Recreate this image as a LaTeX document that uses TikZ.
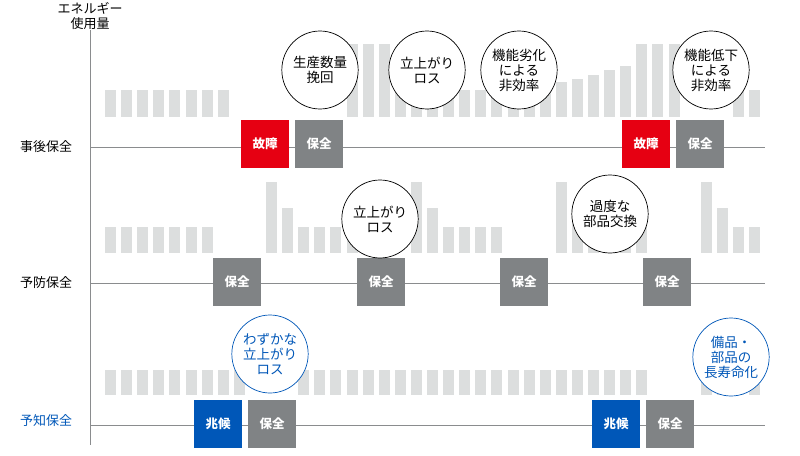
\documentclass[tikz,border=0pt]{standalone}
\usepackage{fontspec}
\setmainfont{Noto Sans CJK JP}
\begin{document}
\begin{tikzpicture}[x=1pt,y=-1pt,
  barc/.style={fill=barg,draw=none},
  box/.style={minimum width=48pt,minimum height=48pt,inner sep=0pt,text=white,font=\fontsize{12.5}{14}\selectfont\bfseries},
  bubble/.style={ellipse,draw=black,fill=white,line width=0.7pt,minimum width=72pt,minimum height=78pt,inner sep=0pt,align=center,font=\fontsize{13.5}{15}\selectfont},
  bbubble/.style={bubble,draw=kblue,text=kblue},
  lab/.style={font=\fontsize{13}{14.5}\selectfont}]
\usetikzlibrary{shapes.geometric}
\definecolor{barg}{HTML}{DCDEDE}
\definecolor{kred}{HTML}{E60012}
\definecolor{kblue}{HTML}{0057B8}
\definecolor{kgray}{HTML}{808385}
\definecolor{lgray}{HTML}{8A8C8E}
\useasboundingbox (0,0) rectangle (800,455);
\newcommand{\ebar}[3]{\fill[barg] ({105+16.1*#1},#2) rectangle ({116+16.1*#1},#3);}
% row 1 bars
\foreach \i in {0,...,7,18,19,...,27,39,40} {\ebar{\i}{90}{117}}
\foreach \i in {15,16,17,33,34,35} {\ebar{\i}{44}{117}}
\foreach \i/\t in {28/82,29/79,30/75,31/70,32/66} {\ebar{\i}{\t}{117}}
% row 2 bars
\foreach \i in {0,...,6,12,13,14,15,21,22,23,24,30,31,32,33,39,40} {\ebar{\i}{227}{253}}
\foreach \i in {10,19,28,37} {\ebar{\i}{182}{253}}
\foreach \i in {11,20,29,38} {\ebar{\i}{208}{253}}
% row 3 bars
\foreach \i in {0,...,8,12,13,...,33,37,38,39,40} {\ebar{\i}{370}{395}}
% axis
\coordinate (atop) at (90,30);
\coordinate (abot) at (90,445);
\draw[lgray,line width=0.8pt] (atop) -- (abot);
\node[lab,align=center,anchor=north] (ylab) at (90,-1) {エネルギー\\使用量};
\foreach \n/\y in {l1/147,l2/283,l3/425} {
  \coordinate (\n a) at (90,\y); \coordinate (\n b) at (765,\y);
  \draw[lgray,line width=0.8pt] (\n a) -- (\n b);}
\node[lab] (r1) at (46,147) {事後保全};
\node[lab] (r2) at (46,283) {予防保全};
\node[lab,text=kblue] (r3) at (46,421) {予知保全};
% row 1 boxes
\node[box,fill=kred] (f1) at (265,144) {故障};
\node[box,fill=kgray] (m1) at (319,144) {保全};
\node[box,fill=kred] (f2) at (646,144) {故障};
\node[box,fill=kgray] (m2) at (700,144) {保全};
% row 2 boxes
\node[box,fill=kgray] (p1) at (237,282) {保全};
\node[box,fill=kgray] (p2) at (381,282) {保全};
\node[box,fill=kgray] (p3) at (524,282) {保全};
\node[box,fill=kgray] (p4) at (667,282) {保全};
% row 3 boxes
\node[box,fill=kblue] (s1) at (218,424) {兆候};
\node[box,fill=kgray] (q1) at (272,424) {保全};
\node[box,fill=kblue] (s2) at (616,424) {兆候};
\node[box,fill=kgray] (q2) at (670,424) {保全};
% bubbles
\node[bubble] (c1) at (320,70) {生産数量\\挽回};
\node[bubble] (c2) at (427,70) {立上がり\\ロス};
\node[bubble] (c3) at (519,70) {機能劣化\\による\\非効率};
\node[bubble] (c4) at (711,70) {機能低下\\による\\非効率};
\node[bubble] (c5) at (380,219) {立上がり\\ロス};
\node[bubble] (c6) at (610,214) {過度な\\部品交換};
\node[bbubble] (c7) at (270,354) {わずかな\\立上がり\\ロス};
\node[bbubble] (c8) at (731,357) {備品・\\部品の\\長寿命化};
\end{tikzpicture}
\end{document}
